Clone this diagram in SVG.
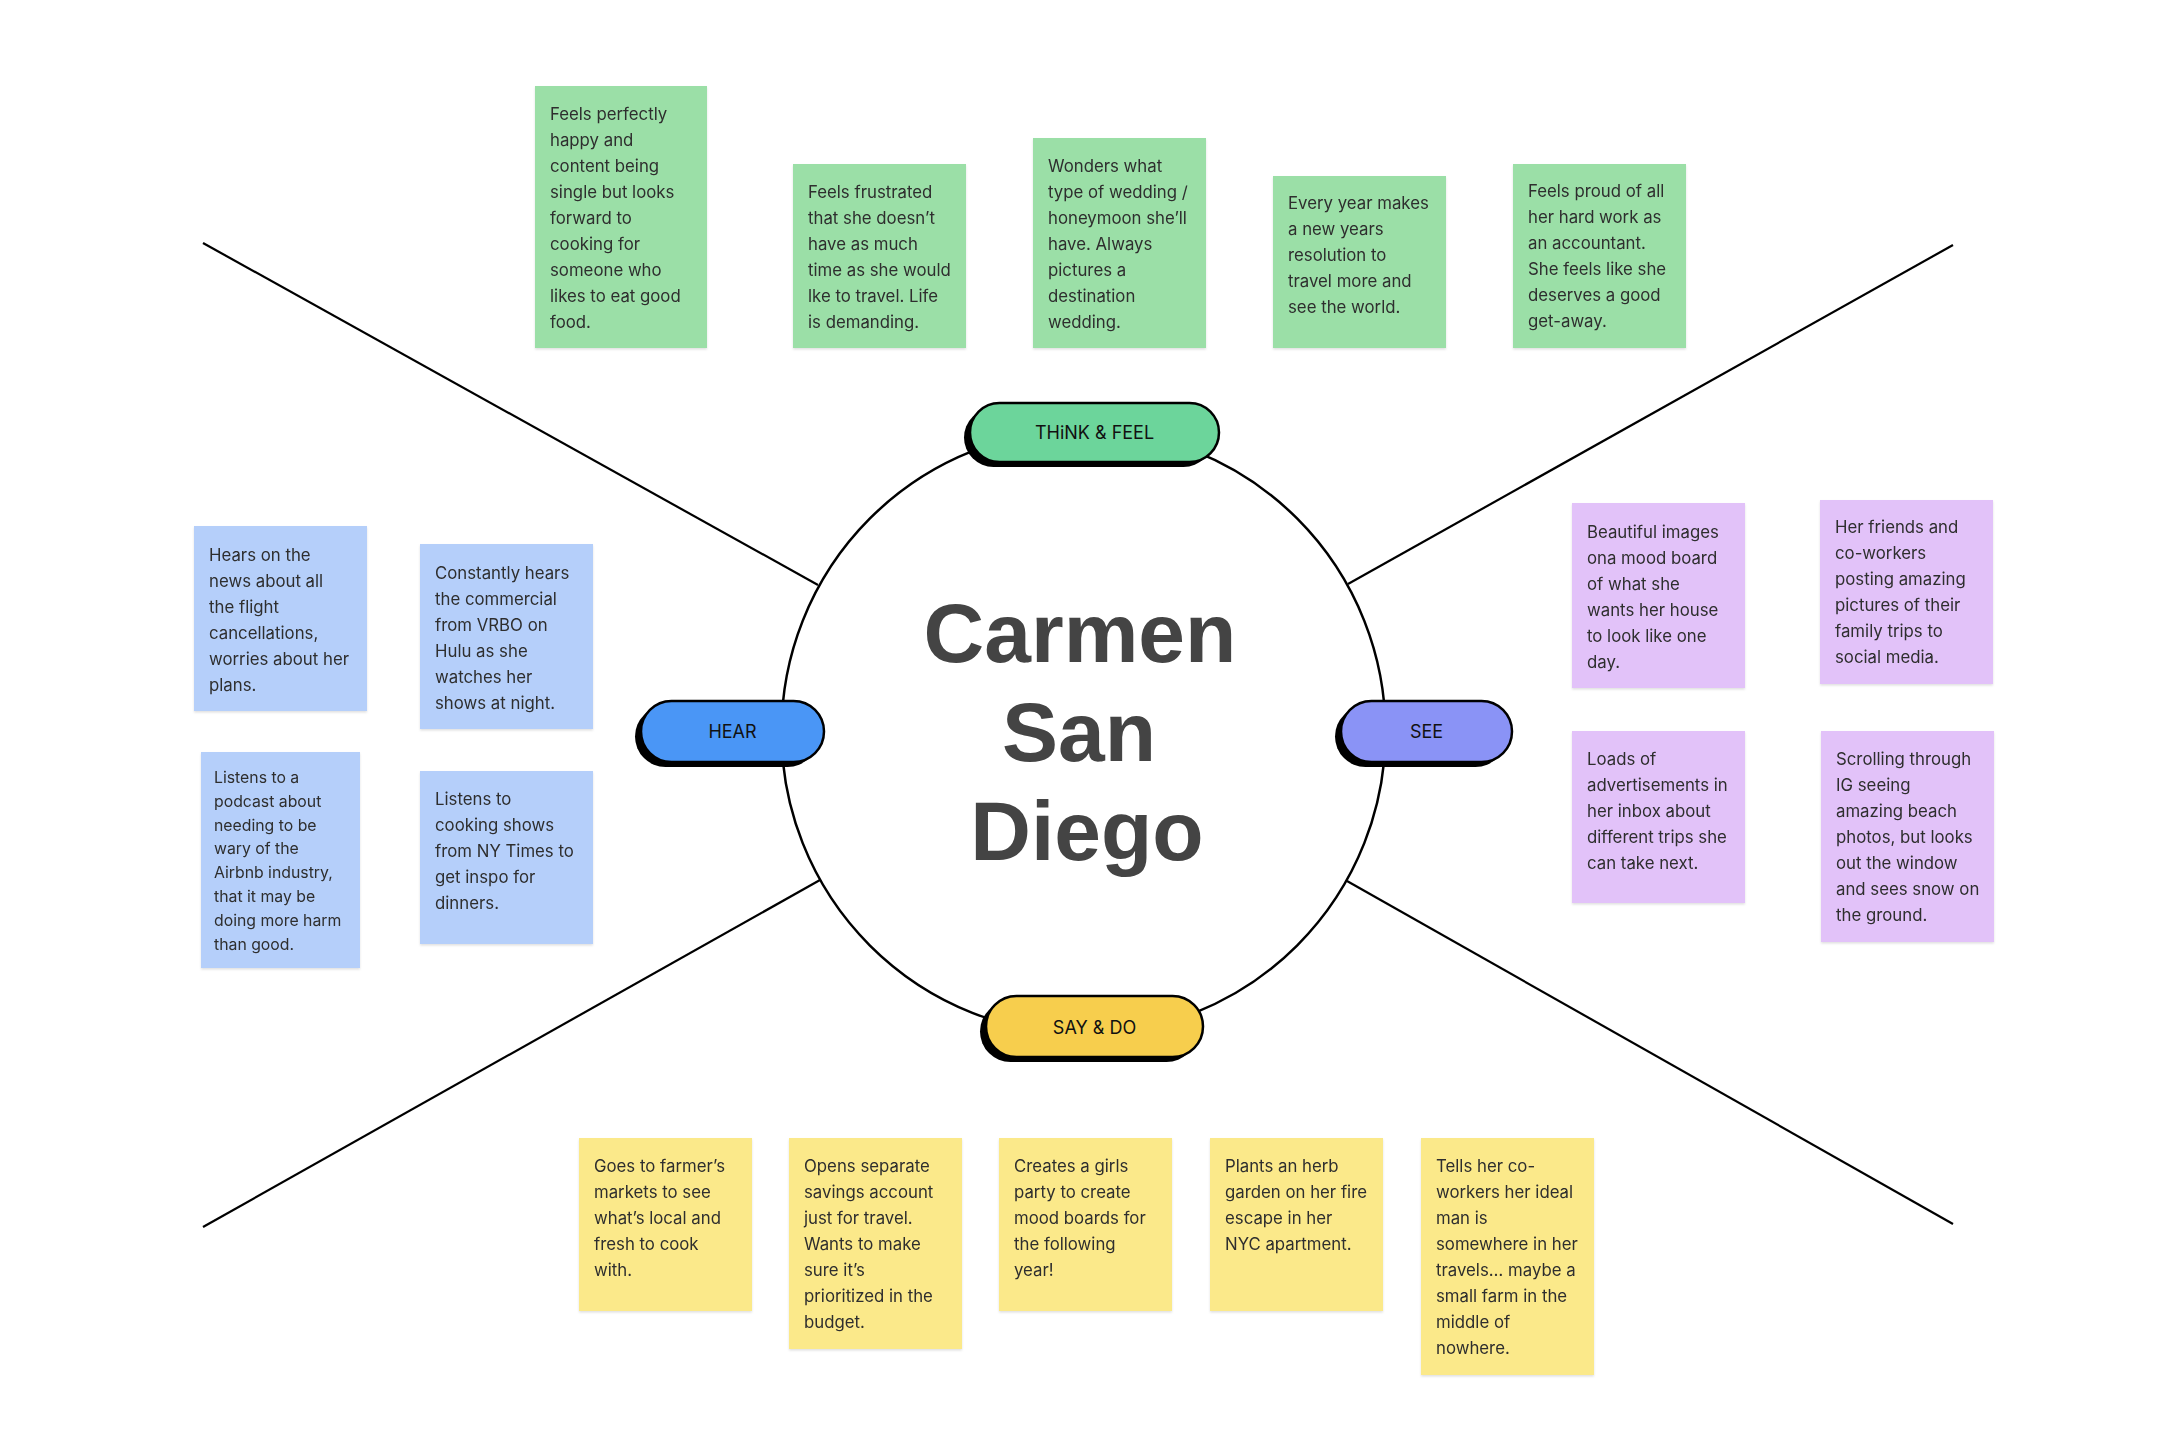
<svg xmlns="http://www.w3.org/2000/svg" width="2166" height="1430" viewBox="0 0 2166 1430">
<defs>
<style>
.st{font-family:Inter,"Noto Sans","Liberation Sans",sans-serif;font-size:16.8px;fill:#2e2e2e}
.sm{font-size:15.8px}
.g{fill:#9BDFA7}
.b{fill:#B5CFFA}
.p{fill:#E2C2F9}
.y{fill:#FBE98A}
.note{filter:url(#sh)}
.spoke{stroke:#000;stroke-width:2.2;fill:none}
.pill{stroke:#000;stroke-width:2.5}
.pt{font-family:Inter,"Noto Sans","Liberation Sans",sans-serif;font-size:18px;fill:#111;text-anchor:middle}
.title{font-family:"Liberation Sans",Arial,sans-serif;font-weight:bold;font-size:84px;fill:#444;text-anchor:middle}
</style>
<filter id="sh" x="-10%" y="-10%" width="120%" height="120%">
<feDropShadow dx="0" dy="1.5" stdDeviation="1" flood-color="#000" flood-opacity="0.12"/>
</filter>
</defs>
<rect width="2166" height="1430" fill="#fff"/>

<g id="connectors">
<line class="spoke" x1="203" y1="243" x2="818" y2="585"/>
<line class="spoke" x1="1953" y1="245" x2="1348" y2="584"/>
<line class="spoke" x1="203" y1="1227" x2="820" y2="880"/>
<line class="spoke" x1="1953" y1="1224" x2="1347" y2="881"/>
</g>

<g id="center">
<circle cx="1083.5" cy="732" r="302" fill="#fff" stroke="#000" stroke-width="2.5"/>
<text class="title" x="1080" y="662">Carmen</text>
<text class="title" x="1079" y="761">San</text>
<text class="title" x="1087" y="860">Diego</text>
</g>

<g id="pill-think">
<rect x="964" y="408" width="249" height="59" rx="29.5" fill="#000"/>
<rect class="pill" x="970" y="403" width="249" height="59" rx="29.5" fill="#6CD59B"/>
<text class="pt" x="1094.5" y="439">THiNK &amp; FEEL</text>
</g>
<g id="pill-hear">
<rect x="635" y="706" width="183" height="61" rx="30.5" fill="#000"/>
<rect class="pill" x="641" y="701" width="183" height="61" rx="30.5" fill="#4A96F6"/>
<text class="pt" x="732.5" y="738">HEAR</text>
</g>
<g id="pill-see">
<rect x="1335" y="706" width="171" height="61" rx="30.5" fill="#000"/>
<rect class="pill" x="1341" y="701" width="171" height="61" rx="30.5" fill="#8A93F6"/>
<text class="pt" x="1426.5" y="738">SEE</text>
</g>
<g id="pill-say">
<rect x="980" y="1001" width="217" height="61" rx="30.5" fill="#000"/>
<rect class="pill" x="986" y="996" width="217" height="61" rx="30.5" fill="#F7CE4D"/>
<text class="pt" x="1094.5" y="1034">SAY &amp; DO</text>
</g>

<g id="think-1" class="note"><rect class="g" x="535" y="86" width="172" height="262"/>
<text class="st" y="120"><tspan x="550">Feels perfectly</tspan><tspan x="550" dy="26">happy and</tspan><tspan x="550" dy="26">content being</tspan><tspan x="550" dy="26">single but looks</tspan><tspan x="550" dy="26">forward to</tspan><tspan x="550" dy="26">cooking for</tspan><tspan x="550" dy="26">someone who</tspan><tspan x="550" dy="26">likes to eat good</tspan><tspan x="550" dy="26">food.</tspan></text></g>
<g id="think-2" class="note"><rect class="g" x="793" y="164" width="173" height="184"/>
<text class="st" y="198"><tspan x="808">Feels frustrated</tspan><tspan x="808" dy="26">that she doesn’t</tspan><tspan x="808" dy="26">have as much</tspan><tspan x="808" dy="26">time as she would</tspan><tspan x="808" dy="26">lke to travel. Life</tspan><tspan x="808" dy="26">is demanding.</tspan></text></g>
<g id="think-3" class="note"><rect class="g" x="1033" y="138" width="173" height="210"/>
<text class="st" y="172"><tspan x="1048">Wonders what</tspan><tspan x="1048" dy="26">type of wedding /</tspan><tspan x="1048" dy="26">honeymoon she’ll</tspan><tspan x="1048" dy="26">have. Always</tspan><tspan x="1048" dy="26">pictures a</tspan><tspan x="1048" dy="26">destination</tspan><tspan x="1048" dy="26">wedding.</tspan></text></g>
<g id="think-4" class="note"><rect class="g" x="1273" y="176" width="173" height="172"/>
<text class="st" y="209"><tspan x="1288">Every year makes</tspan><tspan x="1288" dy="26">a new years</tspan><tspan x="1288" dy="26">resolution to</tspan><tspan x="1288" dy="26">travel more and</tspan><tspan x="1288" dy="26">see the world.</tspan></text></g>
<g id="think-5" class="note"><rect class="g" x="1513" y="164" width="173" height="184"/>
<text class="st" y="197"><tspan x="1528">Feels proud of all</tspan><tspan x="1528" dy="26">her hard work as</tspan><tspan x="1528" dy="26">an accountant.</tspan><tspan x="1528" dy="26">She feels like she</tspan><tspan x="1528" dy="26">deserves a good</tspan><tspan x="1528" dy="26">get-away.</tspan></text></g>

<g id="hear-1" class="note"><rect class="b" x="194" y="526" width="173" height="185"/>
<text class="st" y="561"><tspan x="209">Hears on the</tspan><tspan x="209" dy="26">news about all</tspan><tspan x="209" dy="26">the flight</tspan><tspan x="209" dy="26">cancellations,</tspan><tspan x="209" dy="26">worries about her</tspan><tspan x="209" dy="26">plans.</tspan></text></g>
<g id="hear-2" class="note"><rect class="b" x="420" y="544" width="173" height="185"/>
<text class="st" y="579"><tspan x="435">Constantly hears</tspan><tspan x="435" dy="26">the commercial</tspan><tspan x="435" dy="26">from VRBO on</tspan><tspan x="435" dy="26">Hulu as she</tspan><tspan x="435" dy="26">watches her</tspan><tspan x="435" dy="26">shows at night.</tspan></text></g>
<g id="hear-3" class="note"><rect class="b" x="201" y="752" width="159" height="216"/>
<text class="st sm" y="783"><tspan x="214">Listens to a</tspan><tspan x="214" dy="23.8">podcast about</tspan><tspan x="214" dy="23.8">needing to be</tspan><tspan x="214" dy="23.8">wary of the</tspan><tspan x="214" dy="23.8">Airbnb industry,</tspan><tspan x="214" dy="23.8">that it may be</tspan><tspan x="214" dy="23.8">doing more harm</tspan><tspan x="214" dy="23.8">than good.</tspan></text></g>
<g id="hear-4" class="note"><rect class="b" x="420" y="771" width="173" height="173"/>
<text class="st" y="805"><tspan x="435">Listens to</tspan><tspan x="435" dy="26">cooking shows</tspan><tspan x="435" dy="26">from NY Times to</tspan><tspan x="435" dy="26">get inspo for</tspan><tspan x="435" dy="26">dinners.</tspan></text></g>

<g id="see-1" class="note"><rect class="p" x="1572" y="503" width="173" height="185"/>
<text class="st" y="538"><tspan x="1587">Beautiful images</tspan><tspan x="1587" dy="26">ona mood board</tspan><tspan x="1587" dy="26">of what she</tspan><tspan x="1587" dy="26">wants her house</tspan><tspan x="1587" dy="26">to look like one</tspan><tspan x="1587" dy="26">day.</tspan></text></g>
<g id="see-2" class="note"><rect class="p" x="1820" y="500" width="173" height="184"/>
<text class="st" y="533"><tspan x="1835">Her friends and</tspan><tspan x="1835" dy="26">co-workers</tspan><tspan x="1835" dy="26">posting amazing</tspan><tspan x="1835" dy="26">pictures of their</tspan><tspan x="1835" dy="26">family trips to</tspan><tspan x="1835" dy="26">social media.</tspan></text></g>
<g id="see-3" class="note"><rect class="p" x="1572" y="731" width="173" height="172"/>
<text class="st" y="765"><tspan x="1587">Loads of</tspan><tspan x="1587" dy="26">advertisements in</tspan><tspan x="1587" dy="26">her inbox about</tspan><tspan x="1587" dy="26">different trips she</tspan><tspan x="1587" dy="26">can take next.</tspan></text></g>
<g id="see-4" class="note"><rect class="p" x="1821" y="731" width="173" height="211"/>
<text class="st" y="765"><tspan x="1836">Scrolling through</tspan><tspan x="1836" dy="26">IG seeing</tspan><tspan x="1836" dy="26">amazing beach</tspan><tspan x="1836" dy="26">photos, but looks</tspan><tspan x="1836" dy="26">out the window</tspan><tspan x="1836" dy="26">and sees snow on</tspan><tspan x="1836" dy="26">the ground.</tspan></text></g>

<g id="say-1" class="note"><rect class="y" x="579" y="1138" width="173" height="173"/>
<text class="st" y="1172"><tspan x="594">Goes to farmer’s</tspan><tspan x="594" dy="26">markets to see</tspan><tspan x="594" dy="26">what’s local and</tspan><tspan x="594" dy="26">fresh to cook</tspan><tspan x="594" dy="26">with.</tspan></text></g>
<g id="say-2" class="note"><rect class="y" x="789" y="1138" width="173" height="211"/>
<text class="st" y="1172"><tspan x="804">Opens separate</tspan><tspan x="804" dy="26">savings account</tspan><tspan x="804" dy="26">just for travel.</tspan><tspan x="804" dy="26">Wants to make</tspan><tspan x="804" dy="26">sure it’s</tspan><tspan x="804" dy="26">prioritized in the</tspan><tspan x="804" dy="26">budget.</tspan></text></g>
<g id="say-3" class="note"><rect class="y" x="999" y="1138" width="173" height="173"/>
<text class="st" y="1172"><tspan x="1014">Creates a girls</tspan><tspan x="1014" dy="26">party to create</tspan><tspan x="1014" dy="26">mood boards for</tspan><tspan x="1014" dy="26">the following</tspan><tspan x="1014" dy="26">year!</tspan></text></g>
<g id="say-4" class="note"><rect class="y" x="1210" y="1138" width="173" height="173"/>
<text class="st" y="1172"><tspan x="1225">Plants an herb</tspan><tspan x="1225" dy="26">garden on her fire</tspan><tspan x="1225" dy="26">escape in her</tspan><tspan x="1225" dy="26">NYC apartment.</tspan></text></g>
<g id="say-5" class="note"><rect class="y" x="1421" y="1138" width="173" height="237"/>
<text class="st" y="1172"><tspan x="1436">Tells her co-</tspan><tspan x="1436" dy="26">workers her ideal</tspan><tspan x="1436" dy="26">man is</tspan><tspan x="1436" dy="26">somewhere in her</tspan><tspan x="1436" dy="26">travels… maybe a</tspan><tspan x="1436" dy="26">small farm in the</tspan><tspan x="1436" dy="26">middle of</tspan><tspan x="1436" dy="26">nowhere.</tspan></text></g>
</svg>
